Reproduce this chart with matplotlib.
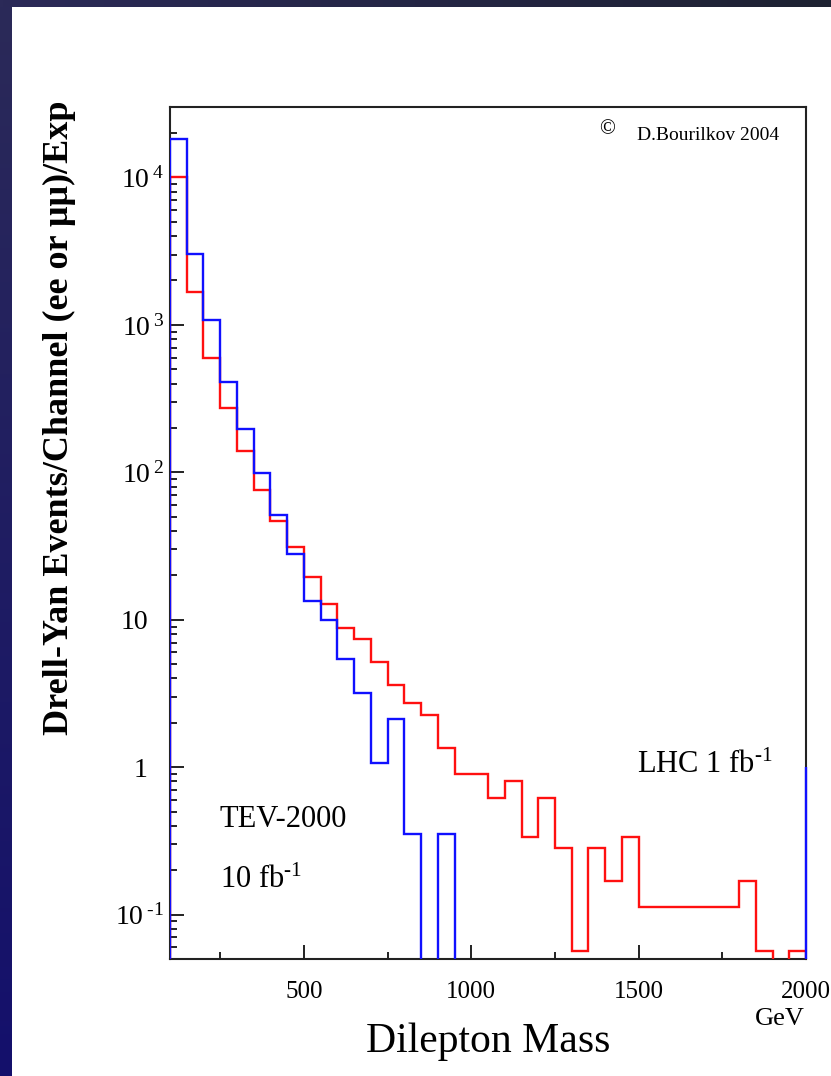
import numpy as np
import matplotlib
matplotlib.use("Agg")
import matplotlib.pyplot as plt
from matplotlib.ticker import FixedLocator, FixedFormatter, LogLocator, NullFormatter

plt.rcParams["font.family"] = ["Liberation Serif", "DejaVu Serif"]
plt.rcParams["mathtext.fontset"] = "custom"
plt.rcParams["mathtext.rm"] = "Liberation Serif"
plt.rcParams["mathtext.it"] = "Liberation Serif:italic"
plt.rcParams["mathtext.bf"] = "Liberation Serif:bold"

# 50 GeV bins from 100 to 2000 GeV
bin_edges = np.arange(100, 2001, 50)

# LHC 1 fb^-1 (red)
lhc_counts = [10000, 1670, 592, 274, 140, 76.4, 46.8, 31.2, 19.5, 12.7,
              8.74, 7.36, 5.16, 3.59, 2.71, 2.25, 1.354, 0.896, 0.896, 0.623,
              0.80, 0.338, 0.62, 0.282, 0.057, 0.282, 0.169, 0.338, 0.113, 0.113,
              0.113, 0.113, 0.113, 0.113, 0.169, 0.057, 0.0, 0.057]

# TEV-2000 10 fb^-1 (blue)
tev_counts = [18170, 3025, 1078, 408, 198, 98.2, 51.7, 28.1, 13.5, 10.0,
              5.40, 3.2, 1.07, 2.12, 0.353, 0.0, 0.353, 0.0, 0.0, 0.0,
              0.0, 0.0, 0.0, 0.0, 0.0, 0.0, 0.0, 0.0, 0.0, 0.0,
              0.0, 0.0, 0.0, 0.0, 0.0, 0.0, 0.0, 0.0]
tev_right_edge = 1.0

y_range = (0.05, 3e4)
ytick_values = [0.1, 1, 10, 100, 1000, 10000]
ytick_labels = [r"$10^{\;\text{-1}}$", "1", "10",
                r"$10^{\;2}$", r"$10^{\;3}$", r"$10^{\;4}$"]
xtick_values = [500, 1000, 1500, 2000]
xtick_minor = [250, 750, 1250, 1750]

floor = 1e-3

fig = plt.figure(figsize=(8.31, 10.76), dpi=100)
fig.patch.set_facecolor("white")

# dark slide border (left and top)
bg = fig.add_axes([0, 0, 1, 1], zorder=-10)
bg.set_xlim(0, 1)
bg.set_ylim(0, 1)
bg.axis("off")
n = 256
t = np.linspace(0, 1, n)
c_top = np.array([43, 42, 88]) / 255
c_bot = np.array([20, 16, 108]) / 255
left_grad = (c_top[None, :] * (1 - t[:, None]) + c_bot[None, :] * t[:, None])[:, None, :]
bg.imshow(left_grad, extent=[0, 12 / 831, 0, 1], aspect="auto", origin="upper")
c_l = np.array([43, 42, 88]) / 255
c_r = np.array([30, 34, 50]) / 255
top_grad = (c_l[None, :] * (1 - t[:, None]) + c_r[None, :] * t[:, None])[None, :, :]
bg.imshow(top_grad, extent=[0, 1, 1 - 7 / 1076, 1], aspect="auto", origin="upper")

ax = fig.add_axes([0.2046, 0.1087, 0.7654, 0.7918])
ax.set_yscale("log")

lhc = np.where(np.array(lhc_counts) > 0, lhc_counts, floor)
tev = np.where(np.array(tev_counts) > 0, tev_counts, floor)
ax.stairs(lhc, bin_edges, baseline=floor, color="#ff1010", lw=1.7, zorder=3)
ax.stairs(tev, bin_edges, baseline=floor, color="#1010ff", lw=1.7, zorder=4)
ax.vlines(bin_edges[-1], y_range[0], tev_right_edge, color="#1010ff", lw=1.7,
          zorder=4, clip_on=False)

ax.set_xlim(bin_edges[0], bin_edges[-1])
ax.set_ylim(*y_range)

for s in ax.spines.values():
    s.set_linewidth(1.5)
    s.set_color("#222222")

ax.xaxis.set_major_locator(FixedLocator(xtick_values))
ax.xaxis.set_minor_locator(FixedLocator(xtick_minor))
ax.set_xticklabels([str(v) for v in xtick_values])
ax.yaxis.set_major_locator(FixedLocator(ytick_values))
ax.yaxis.set_major_formatter(FixedFormatter(ytick_labels))
ax.yaxis.set_minor_locator(LogLocator(base=10, subs=np.arange(2, 10)))
ax.yaxis.set_minor_formatter(NullFormatter())
ax.tick_params(axis="both", which="major", direction="in", length=10, width=1.4,
               color="#222222", top=False, right=False)
ax.tick_params(axis="both", which="minor", direction="in", length=5, width=1.4,
               color="#222222", top=False, right=False)
ax.tick_params(axis="x", which="major", labelsize=18, pad=16)
ax.tick_params(axis="y", which="major", labelsize=20, pad=4)
# plain labels sit further left than the power-of-ten ones
for tick, lab in zip(ax.yaxis.get_major_ticks(), ytick_labels):
    if "^" not in lab:
        tick.set_pad(16)

ax.text(0.078, 0.155, "TEV-2000", transform=ax.transAxes, fontsize=22)
ax.text(0.078, 0.083, r"10 fb$^{\text{-1}}$", transform=ax.transAxes, fontsize=22)
ax.text(0.734, 0.218, r"LHC 1 fb$^{\text{-1}}$", transform=ax.transAxes, fontsize=22)
ax.text(0.734, 0.961, "D.Bourilkov 2004", transform=ax.transAxes, fontsize=14)
ax.text(0.674, 0.968, "\u00a9", transform=ax.transAxes, fontsize=15)

fig.text(0.072, 0.612, "Drell-Yan Events/Channel (ee or \u03bc\u03bc)/Exp",
         rotation=90, ha="center", va="center", fontsize=26, fontweight="bold")
fig.text(0.588, 0.0223, "Dilepton Mass", ha="center", va="baseline", fontsize=30)
fig.text(0.9687, 0.0474, "GeV", ha="right", va="baseline", fontsize=19)

fig.savefig("out.png", dpi=100)
